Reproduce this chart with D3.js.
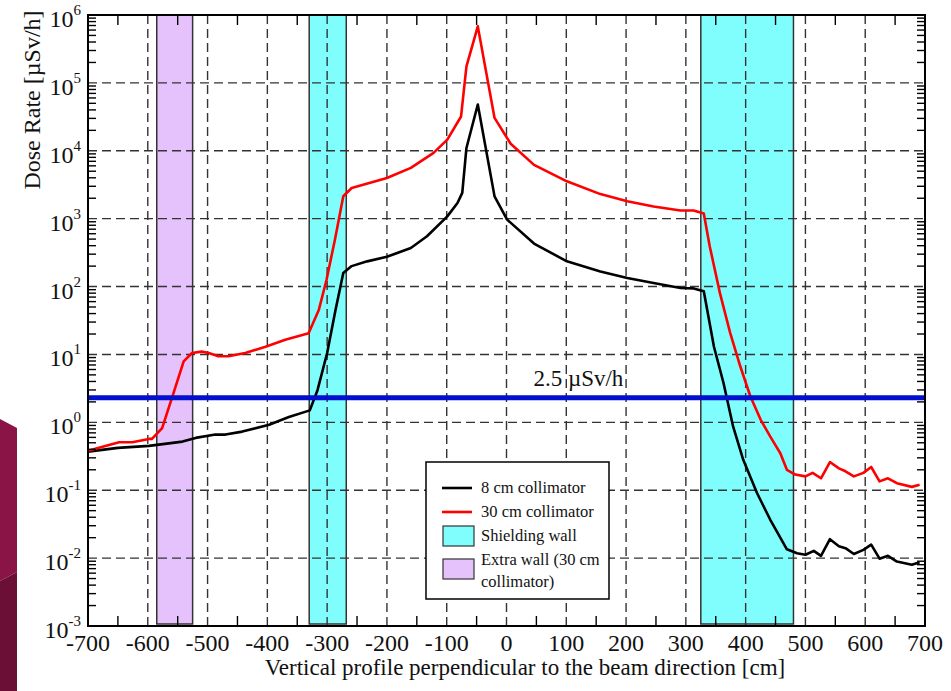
<!DOCTYPE html>
<html>
<head>
<meta charset="utf-8">
<script src="https://cdn.jsdelivr.net/npm/d3@7"></script>
<style>
  body { margin: 0; background: #fff; }
  svg { display: block; }
</style>
</head>
<body>
<svg id="chart"></svg>
<script>
// tick values
const xTickValues = d3.range(-700, 701, 100);
const yExponents = [-3, -2, -1, 0, 1, 2, 3, 4, 5, 6];

// 8 cm collimator
const pos8 = [-700, -650, -598, -542, -520, -487, -470, -442, -397, -364, -329, -316, -300, -286, -273, -259, -233, -200, -160, -133, -99, -82, -74, -67, -48, -20, 1, 46, 101, 157, 202, 246, 291, 313, 330, 347, 363, 379, 396, 419, 441, 469, 486, 500, 514, 526, 541, 556, 567, 581, 597, 610, 624, 638, 653, 678, 691];
const dose8 = [0.37, 0.42, 0.45, 0.52, 0.59, 0.66, 0.66, 0.73, 0.92, 1.2, 1.5, 3.0, 10.5, 45, 158, 200, 235, 274, 370, 550, 1080, 1700, 2400, 11000, 48000, 2130, 970, 430, 235, 167, 134, 113, 95, 94, 85, 13, 3.8, 0.87, 0.28, 0.091, 0.037, 0.0135, 0.0118, 0.0112, 0.0128, 0.0108, 0.019, 0.015, 0.014, 0.0115, 0.0132, 0.0158, 0.0098, 0.0108, 0.0089, 0.0080, 0.0087];

// 30 cm collimator
const pos30 = [-700, -648, -626, -598, -593, -576, -557, -540, -526, -510, -498, -482, -465, -437, -403, -370, -331, -314, -301, -287, -273, -259, -200, -160, -122, -99, -76, -67, -48, -20, 7, 46, 101, 157, 202, 246, 291, 313, 330, 340, 357, 374, 391, 408, 425, 441, 458, 469, 483, 500, 512, 526, 541, 556, 567, 581, 597, 610, 624, 638, 653, 678, 691];
const dose30 = [0.38, 0.51, 0.51, 0.57, 0.57, 0.82, 2.7, 7.9, 10.5, 11, 10.5, 9.4, 9.4, 10.5, 13, 16.5, 20.5, 45, 126, 490, 2140, 2830, 3980, 5600, 9300, 14600, 32000, 175000, 680000, 30500, 12700, 6200, 3550, 2300, 1800, 1510, 1320, 1320, 1190, 390, 80, 21, 6.7, 2.4, 1.1, 0.62, 0.35, 0.2, 0.17, 0.16, 0.18, 0.15, 0.26, 0.21, 0.19, 0.16, 0.18, 0.22, 0.135, 0.15, 0.127, 0.112, 0.12];

// walls [from, to]
const shieldingWalls = [[-330, -268], [325, 480]];
const extraWall = [[-585, -525]];

const doseLimit = 2.3;
const doseLimitLabel = "2.5 µSv/h";

const width = 951, height = 691;
const plotLeft = 88, plotRight = 925, plotTop = 15, plotBottom = 626;
const serif = "'Liberation Serif', 'Times New Roman', Times, 'DejaVu Serif', serif";

const svg = d3.select("#chart")
  .attr("width", width).attr("height", height)
  .attr("font-family", serif)
  .style("font-family", serif);

// background decoration on the left edge
svg.append("path")
  .attr("d", "M0,419 L17,428 L17,572 L0,581 Z")
  .attr("fill", "#8a1446");
svg.append("path")
  .attr("d", "M0,581 L17,572 L17,691 L0,691 Z")
  .attr("fill", "#6c0f36");

const x = d3.scaleLinear().domain([-700, 700]).range([plotLeft, plotRight]);
const y = d3.scaleLog().domain([1e-3, 1e6]).range([plotBottom, plotTop]);

// wall bands
const bandTop = plotTop, bandBottom = plotBottom - 2;
svg.append("g").selectAll("rect")
  .data(extraWall)
  .join("rect")
  .attr("x", d => x(d[0]))
  .attr("width", d => x(d[1]) - x(d[0]))
  .attr("y", bandTop)
  .attr("height", bandBottom - bandTop)
  .attr("fill", "#e6c2fc")
  .attr("stroke", "#333")
  .attr("stroke-width", 1.5);

svg.append("g").selectAll("rect")
  .data(shieldingWalls)
  .join("rect")
  .attr("x", d => x(d[0]))
  .attr("width", d => x(d[1]) - x(d[0]))
  .attr("y", bandTop)
  .attr("height", bandBottom - bandTop)
  .attr("fill", "#80fefe")
  .attr("stroke", "#333")
  .attr("stroke-width", 1.5);

// dashed grid
const grid = svg.append("g")
  .attr("stroke", "#333")
  .attr("stroke-width", 1.4)
  .attr("stroke-dasharray", "9,5");

grid.selectAll("line.v")
  .data(xTickValues.slice(1, -1))
  .join("line")
  .attr("class", "v")
  .attr("x1", d => x(d)).attr("x2", d => x(d))
  .attr("y1", plotTop).attr("y2", plotBottom);

grid.selectAll("line.h")
  .data(yExponents.slice(1, -1))
  .join("line")
  .attr("class", "h")
  .attr("x1", plotLeft).attr("x2", plotRight)
  .attr("y1", d => y(Math.pow(10, d))).attr("y2", d => y(Math.pow(10, d)));

// curves
const line = d3.line()
  .x(d => x(d[0]))
  .y(d => y(d[1]));

svg.append("path")
  .datum(d3.zip(pos8, dose8))
  .attr("d", line)
  .attr("fill", "none")
  .attr("stroke", "#000")
  .attr("stroke-width", 2.6)
  .attr("stroke-linejoin", "round");

svg.append("path")
  .datum(d3.zip(pos30, dose30))
  .attr("d", line)
  .attr("fill", "none")
  .attr("stroke", "#f00")
  .attr("stroke-width", 2.6)
  .attr("stroke-linejoin", "round");

// dose limit line
svg.append("line")
  .attr("x1", plotLeft).attr("x2", plotRight)
  .attr("y1", y(doseLimit)).attr("y2", y(doseLimit))
  .attr("stroke", "#0010cc")
  .attr("stroke-width", 5);

svg.append("text")
  .attr("x", x(45))
  .attr("y", y(doseLimit) - 12)
  .attr("font-size", 23)
  .attr("fill", "#111")
  .text(doseLimitLabel);

// minor ticks
const ticks = svg.append("g").attr("stroke", "#000").attr("stroke-width", 1.4);
const xMinor = d3.range(-650, 700, 100);
ticks.selectAll("line.xb")
  .data(xMinor)
  .join("line")
  .attr("class", "xb")
  .attr("x1", d => x(d)).attr("x2", d => x(d))
  .attr("y1", plotBottom).attr("y2", plotBottom - 10);
ticks.selectAll("line.xt")
  .data(xMinor)
  .join("line")
  .attr("class", "xt")
  .attr("x1", d => x(d)).attr("x2", d => x(d))
  .attr("y1", plotTop).attr("y2", plotTop + 10);

const yMinor = [];
yExponents.slice(0, -1).forEach(e => {
  for (let m = 2; m <= 9; m++) yMinor.push(m * Math.pow(10, e));
});
ticks.selectAll("line.yl")
  .data(yMinor)
  .join("line")
  .attr("class", "yl")
  .attr("x1", plotLeft).attr("x2", plotLeft + 8)
  .attr("y1", d => y(d)).attr("y2", d => y(d));
ticks.selectAll("line.yr")
  .data(yMinor)
  .join("line")
  .attr("class", "yr")
  .attr("x1", plotRight).attr("x2", plotRight - 8)
  .attr("y1", d => y(d)).attr("y2", d => y(d));

// frame
svg.append("rect")
  .attr("x", plotLeft).attr("y", plotTop)
  .attr("width", plotRight - plotLeft).attr("height", plotBottom - plotTop)
  .attr("fill", "none")
  .attr("stroke", "#000")
  .attr("stroke-width", 2);

// x tick labels
svg.append("g").selectAll("text")
  .data(xTickValues)
  .join("text")
  .attr("x", d => x(d))
  .attr("y", 651)
  .attr("text-anchor", "middle")
  .attr("font-size", 24)
  .attr("fill", "#111")
  .text(d => d);

// y tick labels (powers of ten)
const yLab = svg.append("g").selectAll("text")
  .data(yExponents)
  .join("text")
  .attr("x", 81)
  .attr("y", d => y(Math.pow(10, d)) + 12)
  .attr("text-anchor", "end")
  .attr("font-size", 24)
  .attr("fill", "#111");
yLab.append("tspan").text("10");
yLab.append("tspan")
  .attr("dy", -12)
  .attr("font-size", 15)
  .text(d => d);

// axis titles
svg.append("text")
  .attr("x", 525)
  .attr("y", 675)
  .attr("text-anchor", "middle")
  .attr("font-size", 23)
  .attr("fill", "#111")
  .text("Vertical profile perpendicular to the beam direction [cm]");

svg.append("text")
  .attr("transform", "translate(40,100) rotate(-90)")
  .attr("text-anchor", "middle")
  .attr("font-size", 24)
  .attr("fill", "#111")
  .text("Dose Rate [µSv/h]");

// legend
const legend = svg.append("g");
legend.append("rect")
  .attr("x", 426).attr("y", 462)
  .attr("width", 183).attr("height", 137)
  .attr("fill", "#fff")
  .attr("stroke", "#000")
  .attr("stroke-width", 1.5);

const legendItems = [
  { type: "line", color: "#000", label: ["8 cm collimator"], y: 488 },
  { type: "line", color: "#f00", label: ["30 cm collimator"], y: 512 },
  { type: "box", color: "#80fefe", label: ["Shielding wall"], y: 536 },
  { type: "box", color: "#e6c2fc", label: ["Extra wall (30 cm", "collimator)"], y: 569 }
];

legendItems.forEach(item => {
  if (item.type === "line") {
    legend.append("line")
      .attr("x1", 442).attr("x2", 472)
      .attr("y1", item.y).attr("y2", item.y)
      .attr("stroke", item.color)
      .attr("stroke-width", 2.6);
  } else {
    legend.append("rect")
      .attr("x", 443).attr("y", item.y - 10)
      .attr("width", 31).attr("height", 20)
      .attr("fill", item.color)
      .attr("stroke", "#333")
      .attr("stroke-width", 1.2);
  }
  const t = legend.append("text")
    .attr("x", 481)
    .attr("font-size", 16.5)
    .attr("fill", "#111");
  if (item.label.length === 1) {
    t.attr("y", item.y + 5).text(item.label[0]);
  } else {
    t.attr("y", item.y - 4).text(item.label[0]);
    legend.append("text")
      .attr("x", 481).attr("y", item.y + 18)
      .attr("font-size", 16.5)
      .attr("fill", "#111")
      .text(item.label[1]);
  }
});
</script>
</body>
</html>
